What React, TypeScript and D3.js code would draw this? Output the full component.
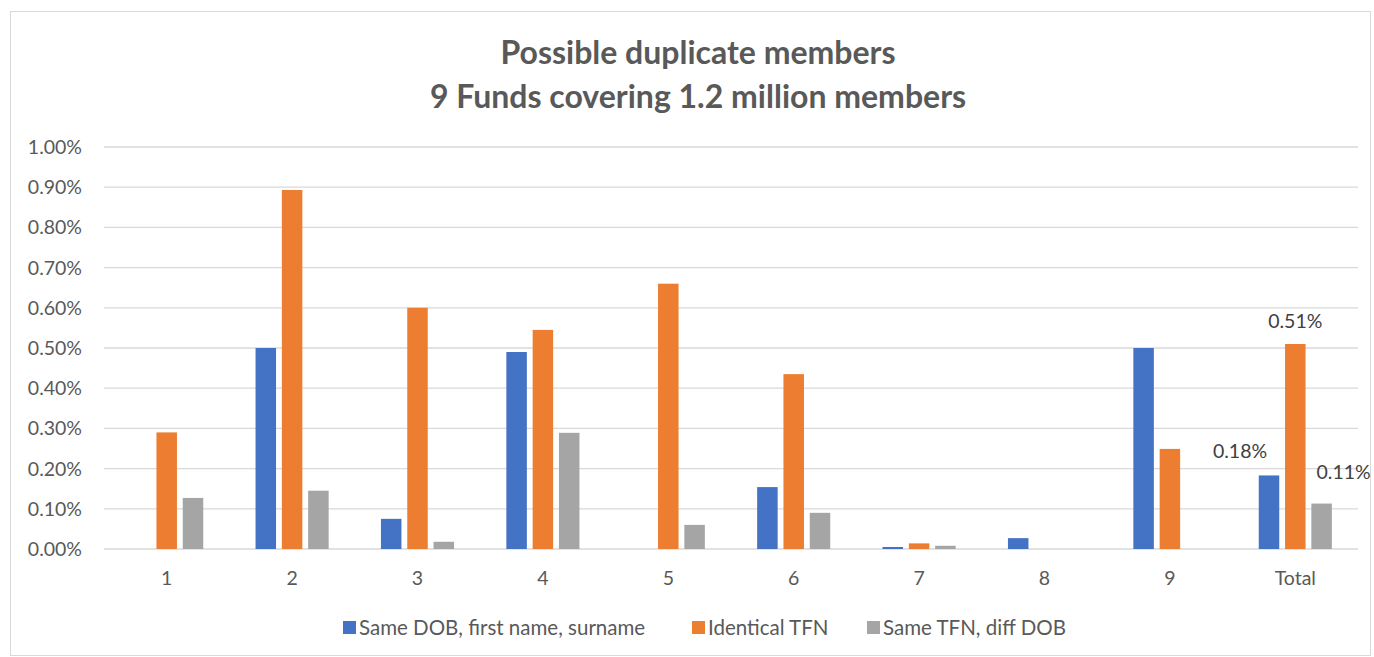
import React from "react";
import * as d3 from "d3";

const categories = ["1", "2", "3", "4", "5", "6", "7", "8", "9", "Total"];
const seriesNames = ["Same DOB, first name, surname", "Identical TFN", "Same TFN, diff DOB"];
const sameDob = [0, 0.5, 0.075, 0.49, 0, 0.154, 0.005, 0.027, 0.5, 0.183];
const identicalTfn = [0.29, 0.893, 0.6, 0.545, 0.66, 0.435, 0.014, 0, 0.249, 0.51];
const sameTfnDiffDob = [0.127, 0.145, 0.018, 0.289, 0.06, 0.09, 0.008, 0, 0, 0.113];
const yTicks = [0, 0.1, 0.2, 0.3, 0.4, 0.5, 0.6, 0.7, 0.8, 0.9, 1.0];
const colors = ["#4472C4", "#ED7D31", "#A5A5A5"];
const titleLines = ["Possible duplicate members", "9 Funds covering 1.2 million members"];
// labels on Total group: [seriesIndex, text, dx, dy]
const totalLabels: [number, string, number, number][] = [
  [0, "0.18%", -29, -17],
  [1, "0.51%", 0, -16],
  [2, "0.11%", 22, -25],
];

export default function App() {
  const W = 1374, H = 657;
  const left = 104, right = 1358, top = 147, bottom = 549;
  const x = d3.scaleBand<string>().domain(categories).range([left, right]);
  const y = d3.scaleLinear().domain([0, 1]).range([bottom, top]);
  const series = [sameDob, identicalTfn, sameTfnDiffDob];
  const barW = 20.5, step = 26.3;
  const font = "Lato, 'Open Sans', sans-serif";
  const txt = "#595959";
  const fs = 19.5;
  const barX = (i: number, s: number) => (x(categories[i]) as number) + x.bandwidth() / 2 + (s - 1) * step - barW / 2;

  const legendX = [343, 692, 867];
  return (
    <svg width={W} height={H} style={{ position: "absolute", left: 0, top: 0 }}>
      <rect x={0} y={0} width={W} height={H} fill="#fff" />
      <rect x={10.5} y={11.5} width={1360} height={644} fill="#fff" stroke="#d9d9d9" strokeWidth={1} />
      {titleLines.map((t, i) => (
        <text key={i} x={698} y={64 + i * 44} textAnchor="middle" fontFamily={font} fontWeight="bold" fontSize={32} fill={txt}>{t}</text>
      ))}
      {yTicks.map((t) => (
        <g key={t}>
          <line x1={left} x2={right} y1={y(t)} y2={y(t)} stroke="#d9d9d9" strokeWidth={1.3} />
          <text x={82} y={y(t) + 7} textAnchor="end" fontFamily={font} fontSize={fs} fill={txt}>{t.toFixed(2) + "%"}</text>
        </g>
      ))}
      {series.map((vals, s) =>
        vals.map((v, i) =>
          v > 0 ? (
            <rect key={s + "-" + i} x={barX(i, s)} y={y(v)} width={barW} height={bottom - y(v)} fill={colors[s]} />
          ) : null
        )
      )}
      {categories.map((c) => (
        <text key={c} x={(x(c) as number) + x.bandwidth() / 2} y={585} textAnchor="middle" fontFamily={font} fontSize={fs} fill={txt}>{c}</text>
      ))}
      {totalLabels.map(([s, t, dx, dy]) => {
        const i = categories.length - 1;
        const v = series[s][i];
        return (
          <text key={t} x={barX(i, s) + barW / 2 + dx} y={y(v) + dy} textAnchor="middle" fontFamily={font} fontSize={fs} fill="#404040">{t}</text>
        );
      })}
      {seriesNames.map((n, s) => (
        <g key={n}>
          <rect x={legendX[s]} y={621} width={13} height={13} fill={colors[s]} />
          <text x={legendX[s] + 16} y={635} fontFamily={font} fontSize={20.5} fill={txt}>{n}</text>
        </g>
      ))}
    </svg>
  );
}
